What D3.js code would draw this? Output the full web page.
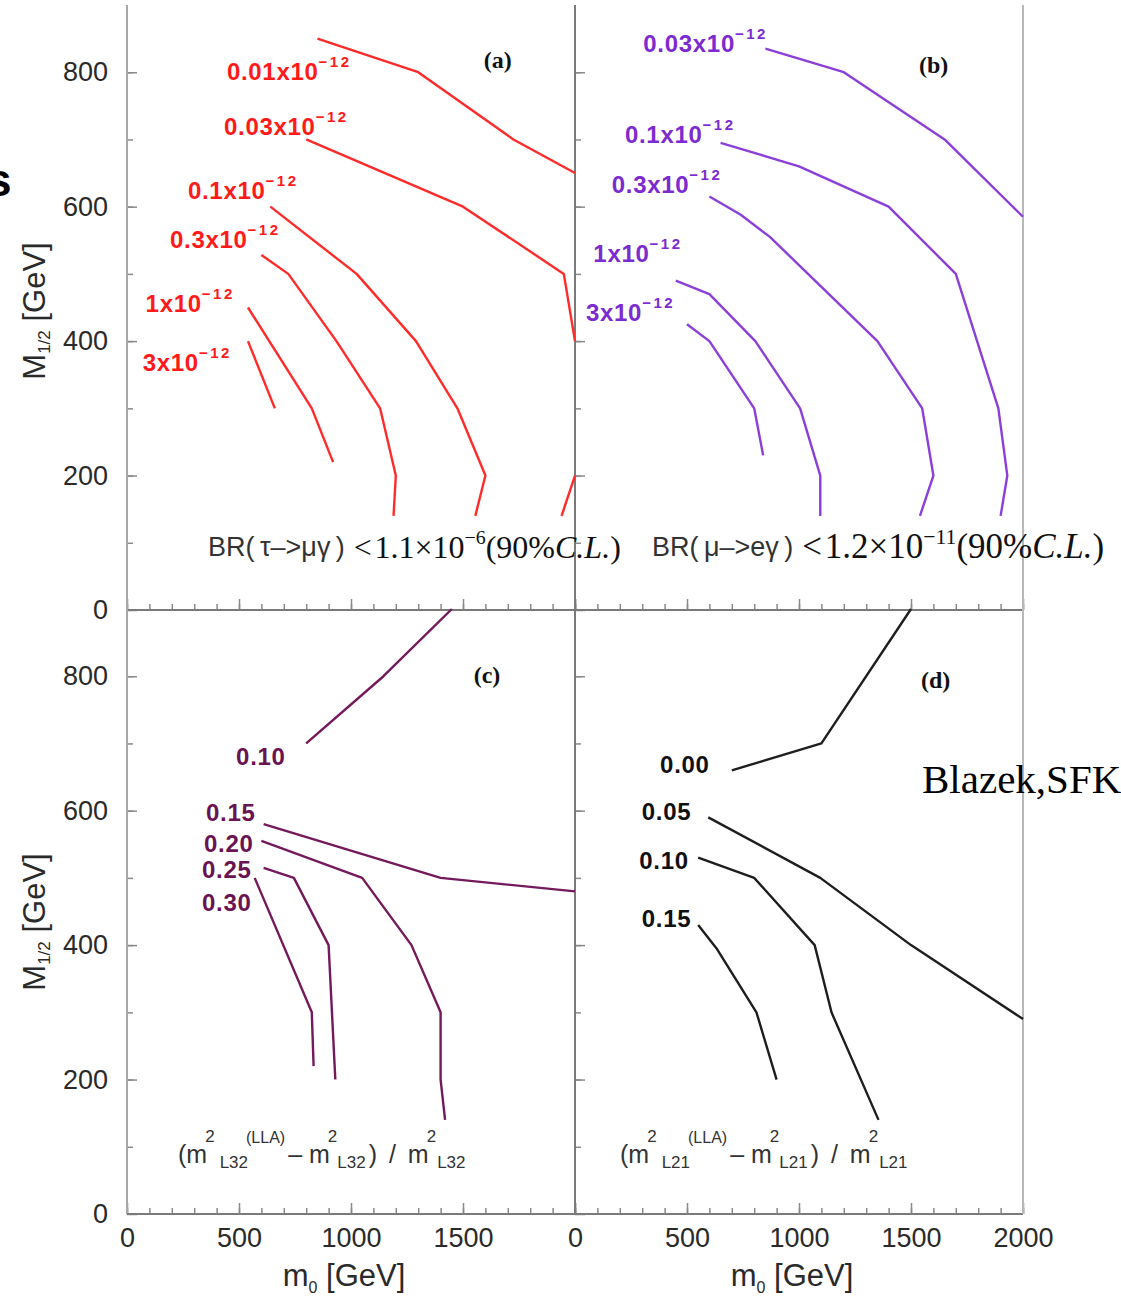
<!DOCTYPE html>
<html>
<head>
<meta charset="utf-8">
<script src="https://d3js.org/d3.v7.min.js"></script>
<style>
  body { margin: 0; background: #fff; }
  svg { display: block; font-family: "Liberation Sans", Arial, sans-serif; }
</style>
</head>
<body>
<svg id="chart" width="1121" height="1297"></svg>
<script>
// tick labels
const m0Ticks = [0, 500, 1000, 1500, 2000];
const mHalfTicks = [0, 200, 400, 600, 800];

// (a) BR(tau -> mu gamma) contours, points are [m0, M1/2] in GeV
const tauLabels = ["0.01", "0.03", "0.1", "0.3", "1", "3"];
const tauLines = [
  [[850, 850], [1300, 800], [1725, 700], [2000, 650]],
  [[800, 700], [1500, 600], [1950, 500], [2000, 400]],
  [[640, 600], [1025, 500], [1290, 400], [1475, 300], [1600, 200], [1555, 140]],
  [[600, 528], [720, 500], [935, 400], [1130, 300], [1200, 200], [1190, 140]],
  [[540, 450], [825, 300], [920, 220]],
  [[540, 400], [660, 300]]
];
const tauCorner = [[1940, 140], [2000, 200]];

// (b) BR(mu -> e gamma) contours
const muLabels = ["0.03", "0.1", "0.3", "1", "3"];
const muLines = [
  [[850, 835], [1200, 800], [1650, 700], [2000, 585]],
  [[650, 695], [1000, 660], [1400, 600], [1700, 500], [1890, 300], [1930, 200], [1900, 140]],
  [[600, 615], [740, 588], [870, 555], [1350, 400], [1550, 300], [1600, 200], [1540, 140]],
  [[450, 490], [600, 470], [805, 400], [1005, 300], [1095, 200], [1095, 140]],
  [[500, 425], [600, 400], [800, 300], [840, 230]]
];

// (c) (m2_L32(LLA) - m2_L32) / m2_L32
const l32Labels = ["0.10", "0.15", "0.20", "0.25", "0.30"];
const l32Lines = [
  [[800, 700], [1145, 800], [1450, 900]],
  [[610, 580], [1400, 500], [2000, 480]],
  [[600, 555], [1050, 500], [1270, 400], [1400, 300], [1400, 200], [1420, 140]],
  [[610, 515], [745, 500], [900, 400], [930, 200]],
  [[570, 500], [825, 300], [833, 220]]
];

// (d) (m2_L21(LLA) - m2_L21) / m2_L21
const l21Labels = ["0.00", "0.05", "0.10", "0.15"];
const l21Lines = [
  [[700, 660], [1100, 700], [1500, 900]],
  [[595, 590], [1095, 500], [1500, 400], [2000, 290]],
  [[550, 530], [800, 500], [1070, 400], [1145, 300], [1355, 140]],
  [[550, 430], [632, 395], [810, 300], [900, 200]]
];

// where the contour labels sit, in data units
const tauLabelAt = [[446, 788], [433, 707], [272, 611], [192, 538], [83, 443], [70, 355]];
const muLabelAt = [[305, 830], [223, 694], [164, 620], [82, 518], [49, 430]];
const l32LabelAt = [[487, 668], [353, 585], [344, 539], [335, 500], [335, 451]];
const l21LabelAt = [[380, 656], [298, 586], [287, 513], [298, 427]];

const svg = d3.select("#chart");

var xL = d3.scaleLinear().domain([0, 2000]).range([127, 575]);
var xR = d3.scaleLinear().domain([0, 2000]).range([575, 1023]);
var yT = d3.scaleLinear().domain([0, 900]).range([610, 5]);
var yB = d3.scaleLinear().domain([0, 900]).range([1214, 609]);

const panels = [
  {id: "(a)", x: xL, y: yT, lines: tauLines, labels: tauLabels, at: tauLabelAt, exp: true,
   line: "#ff2a2a", text: "#ff1a1a", tag: [1655, 806]},
  {id: "(b)", x: xR, y: yT, lines: muLines, labels: muLabels, at: muLabelAt, exp: true,
   line: "#8b3fd8", text: "#7b2bd0", tag: [1601, 799]},
  {id: "(c)", x: xL, y: yB, lines: l32Lines, labels: l32Labels, at: l32LabelAt, exp: false,
   line: "#74195b", text: "#6a1352", tag: [1607, 790]},
  {id: "(d)", x: xR, y: yB, lines: l21Lines, labels: l21Labels, at: l21LabelAt, exp: false,
   line: "#1e1e1e", text: "#111", tag: [1610, 782]}
];

function styleAxis(g) {
  g.select(".domain").remove();
  g.selectAll(".tick line").attr("stroke", "#8a8a8a").attr("stroke-width", 1.5);
  g.selectAll(".tick text").attr("fill", "#2a2a2a").attr("font-size", 27)
    .attr("font-family", "Liberation Sans, Arial, sans-serif");
}

function drawAxes(p, xLabels, yLabels) {
  var g = svg.append("g");
  var y0 = p.y(0);
  var x0 = p.x(0);
  // minor ticks
  g.append("g").attr("transform", "translate(0," + y0 + ")")
    .call(d3.axisBottom(p.x).tickValues(d3.range(0, 2001, 100)).tickSizeInner(-6).tickSizeOuter(0).tickFormat(""))
    .call(styleAxis);
  g.append("g").attr("transform", "translate(" + x0 + ",0)")
    .call(d3.axisLeft(p.y).tickValues(d3.range(100, 900, 100)).tickSizeInner(-6).tickSizeOuter(0).tickFormat(""))
    .call(styleAxis);
  // major ticks + labels
  g.append("g").attr("transform", "translate(0," + y0 + ")")
    .call(d3.axisBottom(p.x).tickValues(m0Ticks).tickSizeInner(-11).tickSizeOuter(0).tickPadding(14)
      .tickFormat(d => xLabels && xLabels.includes(d) ? d : ""))
    .call(styleAxis);
  g.append("g").attr("transform", "translate(" + x0 + ",0)")
    .call(d3.axisLeft(p.y).tickValues(mHalfTicks).tickSizeInner(-10).tickSizeOuter(0).tickPadding(19)
      .tickFormat(d => yLabels ? d : ""))
    .call(styleAxis);
  // axis lines
  g.append("line").attr("x1", x0).attr("x2", x0).attr("y1", p.y(900)).attr("y2", y0)
    .attr("stroke", x0 < 200 ? "#a8a8a8" : "#7a7a7a").attr("stroke-width", 2);
  g.append("line").attr("x1", p.x(0)).attr("x2", p.x(2000)).attr("y1", y0).attr("y2", y0)
    .attr("stroke", "#7a7a7a").attr("stroke-width", 2);
}

drawAxes(panels[0], null, true);
drawAxes(panels[1], null, false);
drawAxes(panels[2], [0, 500, 1000, 1500], true);
drawAxes(panels[3], m0Ticks, false);

// right border
svg.append("line").attr("x1", xR(2000)).attr("x2", xR(2000)).attr("y1", yT(900)).attr("y2", yB(0))
  .attr("stroke", "#b8b8b8").attr("stroke-width", 2);

// contours
panels.forEach(function(p) {
  var line = d3.line().x(d => p.x(d[0])).y(d => p.y(d[1]));
  var g = svg.append("g");
  g.selectAll("path").data(p.lines).enter().append("path")
    .attr("d", line).attr("fill", "none").attr("stroke", p.line)
    .attr("stroke-width", 2.4).attr("stroke-linejoin", "round");

  var t = g.selectAll("text.lab").data(p.labels).enter().append("text")
    .attr("class", "lab")
    .attr("x", (d, i) => p.x(p.at[i][0]))
    .attr("y", (d, i) => p.y(p.at[i][1]))
    .attr("fill", p.text).attr("font-weight", "bold")
    .attr("font-size", 24).attr("letter-spacing", 0.7);
  t.append("tspan").text(d => p.exp ? d + "x10" : d);
  if (p.exp) {
    t.append("tspan").attr("dy", -13).attr("font-size", 15).attr("letter-spacing", 2.5).text("\u221212");
  }

  svg.append("text")
    .attr("x", p.x(p.tag[0])).attr("y", p.y(p.tag[1]))
    .attr("text-anchor", "middle")
    .attr("font-family", "Liberation Serif, Times New Roman, serif")
    .attr("font-weight", "bold").attr("font-size", 24).attr("fill", "#111")
    .text(p.id);
});

// extra piece of the 0.03 contour in (a)
svg.append("path")
  .attr("d", d3.line().x(d => xL(d[0])).y(d => yT(d[1]))(tauCorner))
  .attr("fill", "none").attr("stroke", panels[0].line).attr("stroke-width", 2.4);

// BR limits
var serif = "Liberation Serif, Times New Roman, serif";
function brText(x, decay, limit, exp, fs) {
  var t = svg.append("text").attr("x", x).attr("y", 556);
  t.append("tspan").attr("font-size", 27).attr("fill", "#333").text("BR(\u2009" + decay + "\u2009)");
  t.append("tspan").attr("font-family", serif)
    .attr("font-size", fs).attr("fill", "#111").attr("dx", 9).attr("dy", 2).text("<" + "\u200a" + limit + "\u00d710");
  t.append("tspan").attr("font-family", serif)
    .attr("font-size", fs * 0.62).attr("dy", -14).attr("fill", "#111").text(exp);
  t.append("tspan").attr("font-family", serif)
    .attr("font-size", fs).attr("dy", 14).attr("fill", "#111").text("(90%");
  t.append("tspan").attr("font-family", serif)
    .attr("font-size", fs).attr("font-style", "italic").attr("fill", "#111").text("C.L.");
  t.append("tspan").attr("font-family", serif)
    .attr("font-size", fs).attr("fill", "#111").text(")");
}
brText(208, "\u03c4\u2013>\u03bc\u03b3", "1.1", "\u22126", 32);
brText(652, "\u03bc\u2013>e\u03b3", "1.2", "\u221211", 35);

// mass splitting labels
function llaText(x, idx) {
  var t = svg.append("text").attr("x", x).attr("y", 1163).attr("fill", "#333").attr("font-size", 25);
  function mTerm(prefix, dy, dx, gap) {
    t.append("tspan").attr("dy", dy).attr("dx", dx).text(prefix);
    t.append("tspan").attr("font-size", 17).attr("dy", -21).attr("dx", -2).text("2");
    t.append("tspan").attr("font-size", 17).attr("dy", 26).attr("dx", gap).text(idx);
  }
  mTerm("(m", 0, 0, 5);
  t.append("tspan").attr("font-size", 16).attr("dy", -25).attr("dx", -2).text("(LLA)");
  mTerm("\u2013 m", 20, 3, 0);
  t.append("tspan").attr("dy", -5).attr("dx", 3).attr("word-spacing", 5).text(") / m");
  t.append("tspan").attr("font-size", 17).attr("dy", -21).attr("dx", -2).text("2");
  t.append("tspan").attr("font-size", 17).attr("dy", 26).attr("dx", 1).text(idx);
}
llaText(178, "L32");
llaText(620, "L21");

// axis titles
function yTitle(cy) {
  var t = svg.append("text").attr("transform", "translate(45," + cy + ") rotate(-90)")
    .attr("text-anchor", "middle").attr("font-size", 31).attr("fill", "#2a2a2a");
  t.append("tspan").text("M");
  t.append("tspan").attr("font-size", 17).attr("dy", 5).text("1/2");
  t.append("tspan").attr("dy", -5).text(" [GeV]");
}
yTitle(311);
yTitle(922);

function xTitle(cx) {
  var t = svg.append("text").attr("x", cx).attr("y", 1286)
    .attr("text-anchor", "middle").attr("font-size", 31).attr("fill", "#2a2a2a");
  t.append("tspan").text("m");
  t.append("tspan").attr("font-size", 16).attr("dy", 7).text("0");
  t.append("tspan").attr("dy", -7).text(" [GeV]");
}
xTitle((xL(0) + xL(2000)) / 2 - 7);
xTitle((xR(0) + xR(2000)) / 2 - 7);

svg.append("text").attr("x", 922).attr("y", 793)
  .attr("font-family", serif)
  .attr("font-size", 41).attr("fill", "#000").text("Blazek,SFK");

// clipped letter at the left edge
svg.append("text").attr("x", -14).attr("y", 196)
  .attr("font-size", 46).attr("font-weight", "bold").attr("fill", "#000").text("s");
</script>
</body>
</html>
